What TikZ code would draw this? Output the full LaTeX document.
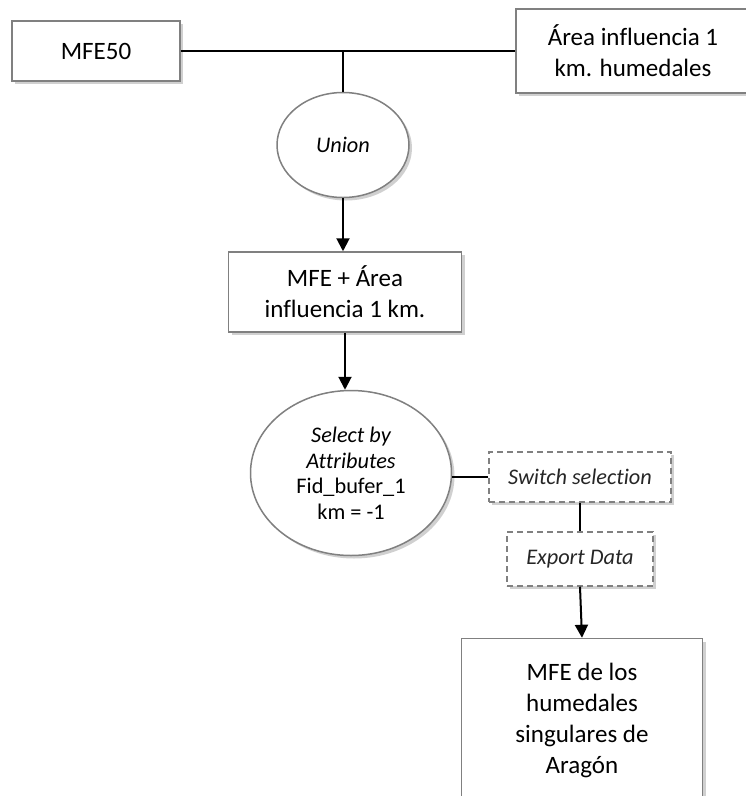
\documentclass[tikz,border=0pt]{standalone}
\usepackage{fontspec}
\setmainfont{Carlito}[Ligatures=NoCommon]
\usetikzlibrary{shapes.geometric,shadows,arrows.meta}
\definecolor{bordergray}{HTML}{808080}
\tikzset{
  shadowed/.style={drop shadow={shadow xshift=3pt,shadow yshift=-3pt,opacity=0.3,fill=black!60}},
  databox/.style={draw=bordergray,line width=1.5pt,fill=white,shadowed,align=center,inner sep=0pt,
    font=\fontsize{25}{31}\selectfont},
  opellipse/.style={ellipse,draw=bordergray,line width=1.5pt,fill=white,shadowed,align=center,inner sep=0pt,
    font=\fontsize{22.3}{25.5}\selectfont},
  toolbox/.style={draw=bordergray,line width=1.5pt,dash pattern=on 6pt off 4pt,fill=white,shadowed,align=center,inner sep=0pt,
    font=\fontsize{22.3}{25.5}\selectfont\itshape,text=black!85},
  conn/.style={draw=black,line width=2pt},
  arr/.style={conn,-{Triangle[length=13pt,width=13pt]}}
}
\begin{document}
\begin{tikzpicture}[x=1pt,y=-1pt]
\useasboundingbox (0,0) rectangle (746,796);
\clip (0,0) rectangle (746,796);
\fill[white] (0,0) rectangle (746,796);
\node[databox,minimum width=168pt,minimum height=60pt] (mfe50) at (96,51) {MFE50};
\node[databox,minimum width=234pt,minimum height=84pt] (area) at (633,51) {Área influencia 1\\km. humedales};
\coordinate (j) at (343,51);
\node[opellipse,minimum width=132pt,minimum height=105pt] (union) at (343,145) {\itshape Union};
\node[databox,minimum width=233pt,minimum height=80pt] (mfe) at (345,292) {MFE + Área\\influencia 1 km.};
\node[opellipse,minimum width=201pt,minimum height=165pt] (sel) at (351,473) {\itshape Select by\\\itshape Attributes\\Fid\_bufer\_1\\km = -1};
\node[toolbox,minimum width=182pt,minimum height=50pt] (switch) at (580,477) {Switch selection};
\node[toolbox,minimum width=146pt,minimum height=54pt] (export) at (580,559) {Export Data};
\node[databox,minimum width=241pt,minimum height=163pt] (final) at (582,720) {MFE de los\\humedales\\singulares de\\Aragón};
\draw[conn] (mfe50.east) -- (area.west);
\draw[conn] (j) -- (union.north);
\draw[arr] (union.south) -- (union.south |- mfe.north);
\draw[arr] (mfe.south) -- (mfe.south |- sel.north);
\draw[conn] (switch.west) -- (switch.west -| sel.east);
\draw[conn] (switch.south) -- (export.north);
\draw[arr] (export.south) -- (final.north);
\end{tikzpicture}
\end{document}
